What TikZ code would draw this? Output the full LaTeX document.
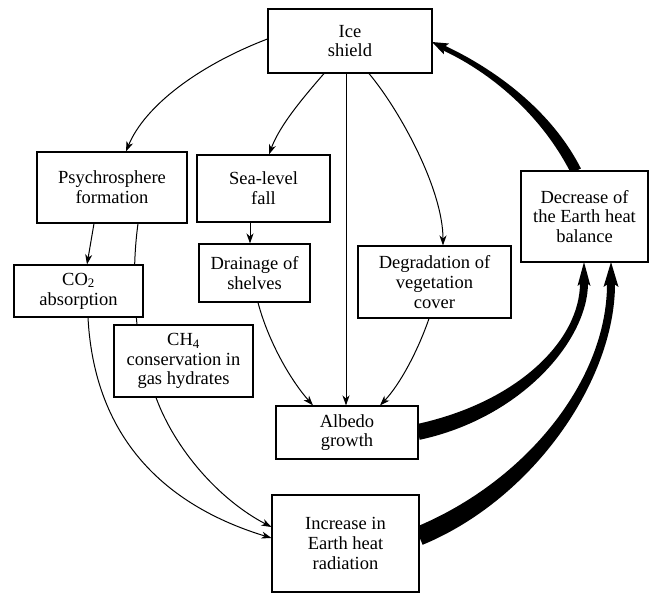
\documentclass[tikz,border=0pt]{standalone}
\usepackage{fontspec}
\setmainfont{Liberation Serif}
\usetikzlibrary{arrows.meta}
\pgfdeclarelayer{bg}
\pgfsetlayers{bg,main}
\begin{document}
\begin{tikzpicture}[x=1pt,y=-1pt,
  box/.style={draw, fill=white, line width=1.1pt, align=center, inner sep=0pt,
    font=\fontsize{18.5}{19.7}\selectfont},
  conn/.style={line width=1pt, -{Stealth[length=10pt,width=7pt,inset=3pt]}},
  plain/.style={line width=1pt},
  heavy/.style={fill=black}]
\useasboundingbox (0,0) rectangle (649,593);

\node[box, minimum width=164pt, minimum height=64pt] (ice) at (350,41) {Ice\\shield};
\node[box, minimum width=150pt, minimum height=71pt] (psy) at (112,187.5) {Psychrosphere\\formation};
\node[box, minimum width=133pt, minimum height=67pt] (sea) at (263.5,188.5) {Sea-level\\fall};
\node[box, minimum width=129pt, minimum height=52pt] (co2) at (78.5,291) {CO\textsubscript{2}\\absorption};
\node[box, minimum width=111pt, minimum height=58pt] (drain) at (254.5,273) {Drainage of\\shelves};
\node[box, minimum width=139pt, minimum height=72pt] (ch4) at (183.5,361) {CH\textsubscript{4}\\conservation in\\gas hydrates};
\node[box, minimum width=153pt, minimum height=72pt] (degr) at (434.5,282) {Degradation of\\vegetation\\cover};
\node[box, minimum width=142pt, minimum height=53pt] (alb) at (347,432.5) {Albedo\\growth};
\node[box, minimum width=147pt, minimum height=97pt] (incr) at (345.5,543.5) {Increase in\\Earth heat\\radiation};
\node[box, minimum width=127pt, minimum height=91pt] (decr) at (584.5,216.5) {Decrease of\\the Earth heat\\balance};

\begin{pgfonlayer}{bg}
% thin connectors
\draw[conn] ([yshift=2pt]ice.west) .. controls +(-68,26) and +(19,-46) .. ([xshift=14pt]psy.north);
\draw[conn] ([xshift=-26pt]ice.south) .. controls +(-19,22) and +(11,-30) .. ([xshift=5.5pt]sea.north);
\draw[conn] ([xshift=-4pt]ice.south) -- ([xshift=-1pt]alb.north);
\draw[conn] ([xshift=19pt]ice.south) .. controls +(31,37) and +(0,-56) .. ([xshift=8.5pt]degr.north);
\draw[conn] ([xshift=-13.5pt]sea.south) -- ([xshift=-4.5pt]drain.north);
\draw[conn] ([xshift=-18pt]psy.south) -- ([xshift=8.5pt]co2.north);
\draw[plain] ([xshift=26pt]psy.south) .. controls +(-5,37) and +(-3,-30) .. ([xshift=-46.5pt]ch4.north);
\draw[conn] ([xshift=9.5pt]co2.south) .. controls +(7,133) and +(-92,-28) .. ([yshift=5.5pt]incr.west);
\draw[conn] ([xshift=-27.5pt]ch4.south) .. controls +(19,52) and +(-52,-27) .. ([yshift=16.5pt]incr.west);
\draw[conn] ([xshift=3.5pt]drain.south) .. controls +(10,38) and +(-23,-26) .. ([xshift=-34pt]alb.north);
\draw[conn] ([xshift=-5.5pt]degr.south) .. controls +(-11,32) and +(20,-21) .. ([xshift=33pt]alb.north);

% heavy tapered connectors
% Albedo -> Decrease
\fill[heavy] (416.3,424.2) .. controls (518.3,402.2) and (580,340) .. (580,283)
  -- (580,279) -- (588,279) -- (588,283) .. controls (588,340) and (521.7,417.8) .. (419.7,439.8) -- cycle;
\fill[heavy] (584,262) -- (590.5,286) -- (584,281) -- (577.5,286) -- cycle;
% Increase -> Decrease
\fill[heavy] (415.4,527.2) .. controls (526.4,481.2) and (607,380) .. (607,284)
  -- (607,280) -- (615,280) -- (615,284) .. controls (615,380) and (533.6,498.8) .. (422.6,544.8) -- cycle;
\fill[heavy] (611,262) -- (618.5,287) -- (611,282) -- (603.5,287) -- cycle;
% Decrease -> Ice shield
\fill[heavy] (580.9,168.5) .. controls (549.9,107.5) and (491.1,67.75) .. (447.1,46.75)
  -- (443,44.5) -- (440.8,49) -- (444.9,51.25) .. controls (488.9,72.25) and (540.1,112.5) .. (571.1,173.5) -- cycle;
\fill[heavy] (432,42) -- (449,43.5) -- (443.7,47.6) -- (443.8,54.3) -- cycle;
\end{pgfonlayer}
\end{tikzpicture}
\end{document}
